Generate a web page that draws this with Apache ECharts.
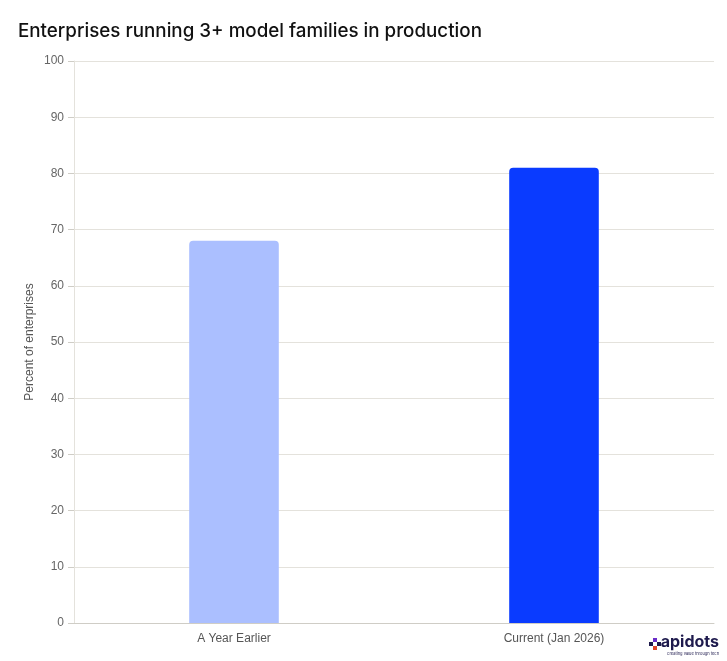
<!DOCTYPE html>
<html>
<head>
<meta charset="utf-8">
<script src="https://cdn.jsdelivr.net/npm/echarts@6/dist/echarts.min.js"></script>
<style>
html,body{margin:0;padding:0;background:#fff;}
#chart{width:727px;height:661px;}
</style>
</head>
<body>
<div id="chart"></div>
<script>
const categories = ["A Year Earlier", "Current (Jan 2026)"];
const values = [68, 81];
const barColors = ["#abbfff", "#0a3bff"];
const yTicks = { min: 0, max: 100, interval: 10 };

const chart = echarts.init(document.getElementById('chart'), null, { renderer: 'canvas' });
chart.setOption({
  backgroundColor: '#ffffff',
  animation: false,
  title: {
    text: 'Enterprises running 3+ model families in production',
    left: 13, top: 17,
    textStyle: { fontFamily: 'Inter', fontSize: 18.8, fontWeight: 500, color: '#111111' }
  },
  grid: { left: 74, right: 13, top: 61, bottom: 38 },
  xAxis: {
    type: 'category',
    data: categories,
    axisLine: { show: true, lineStyle: { color: '#cfcdc6', width: 1 } },
    axisTick: { show: false },
    axisLabel: { color: '#555555', fontSize: 12, fontFamily: 'Arial, Liberation Sans', margin: 10 }
  },
  yAxis: {
    type: 'value',
    min: yTicks.min, max: yTicks.max, interval: yTicks.interval,
    name: 'Percent of enterprises',
    nameLocation: 'middle',
    nameGap: 38,
    nameMoveOverlap: false,
    nameTextStyle: { color: '#555555', fontSize: 12, fontFamily: 'Arial, Liberation Sans' },
    axisLine: { show: true, lineStyle: { color: '#e4e2dc' } },
    axisTick: { show: true, length: 6, lineStyle: { color: '#cfcdc6' } },
    axisLabel: { color: '#666666', fontSize: 12, fontFamily: 'Arial, Liberation Sans', margin: 10 },
    splitLine: { show: true, lineStyle: { color: '#e4e2dc', width: 1 } }
  },
  series: [{
    type: 'bar',
    barWidth: '28%',
    data: values.map((v, i) => ({ value: v, itemStyle: { color: barColors[i], borderRadius: [4, 4, 0, 0] } }))
  }],
  graphic: [
    {
      type: 'text', right: 8, top: 634,
      style: { text: 'apidots', fill: '#1e1a4d', font: 'bold 16px Inter, sans-serif' }
    },
    {
      type: 'text', right: 8, top: 652,
      style: { text: 'creating value through tech', fill: '#1e1a4d', font: '4px Inter, sans-serif' }
    },
    {
      type: 'group', right: 66, top: 638,
      children: [
        { type: 'rect', shape: { x: 4, y: 0, width: 4, height: 4 }, style: { fill: '#6a2cc8' } },
        { type: 'rect', shape: { x: 0, y: 4, width: 4, height: 4 }, style: { fill: '#1e1a4d' } },
        { type: 'rect', shape: { x: 8, y: 4, width: 4, height: 4 }, style: { fill: '#1e1a4d' } },
        { type: 'rect', shape: { x: 4, y: 8, width: 4, height: 4 }, style: { fill: '#e0452b' } }
      ]
    }
  ]
});
</script>
</body>
</html>
